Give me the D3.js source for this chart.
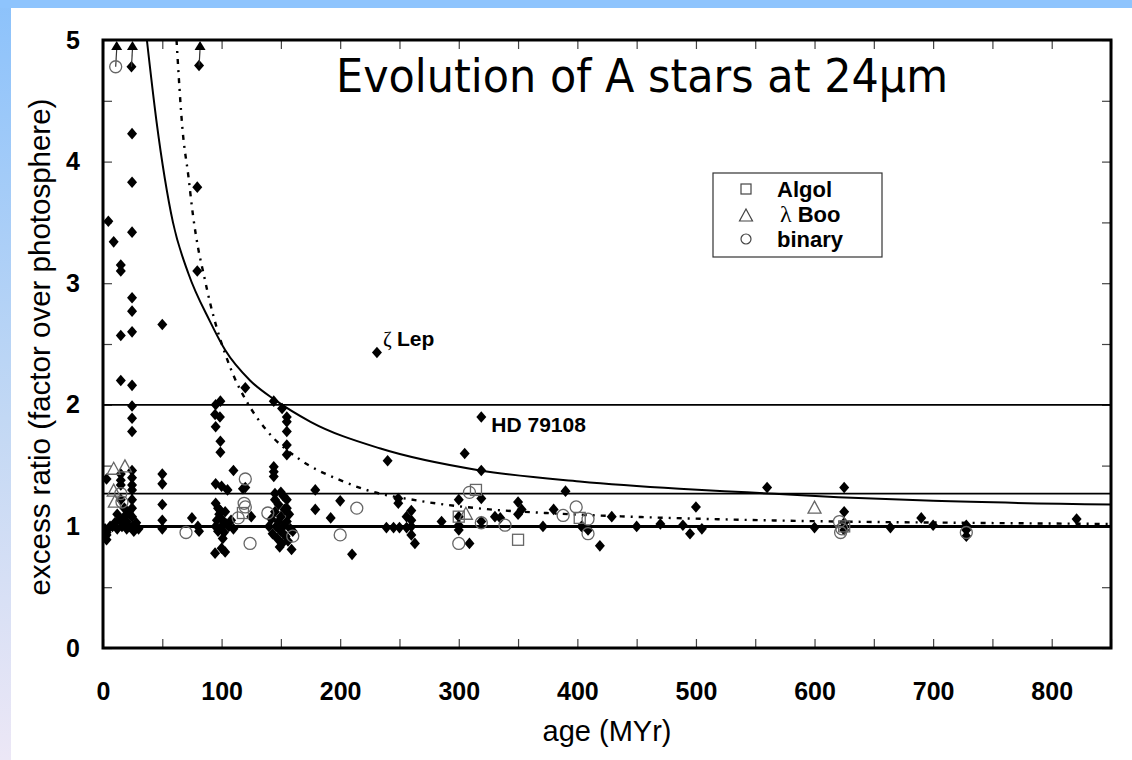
<!DOCTYPE html>
<html>
<head>
<meta charset="utf-8">
<script src="https://cdn.jsdelivr.net/npm/d3@7"></script>
<style>
  body { margin: 0; background: #fff; }
  svg { display: block; }
  .tick line { stroke: #444; stroke-width: 1.2; }
  .tick text { font-family: "Liberation Sans", Arial, sans-serif; font-weight: bold; font-size: 25px; fill: #000; }
</style>
</head>
<body>
<svg id="chart"></svg>
<script>
// filled diamonds: A stars [age MYr, excess ratio]
const diamonds = [
  [24.5,4.23],[24.5,3.83],[4.5,3.51],[9,3.34],[24.5,3.42],[79.5,3.79],[79.5,3.10],[15,3.15],[15,3.10],
  [24.5,2.88],[24.5,2.77],[15,2.57],[24.5,2.60],[50,2.66],[15,2.20],[24.5,2.16],[24.5,1.99],[24.5,1.89],[24.5,1.78],
  [120,2.14],[95,2.0],[99,2.03],[94.5,1.92],[98.6,1.90],[95,1.82],[99,1.70],[99,1.61],
  [144,2.03],[151,1.97],[155,1.90],[155,1.86],[155,1.78],[155,1.67],[155,1.59],
  [231,2.43],[319,1.90],[240,1.54],[305,1.60],[319,1.46],[390,1.29],[560,1.32],[625,1.32],
  [110,1.46],[144,1.49],[144,1.45],[144,1.41],[50,1.43],[50,1.35],
  [24.5,1.46],[24.5,1.40],[24.5,1.34],[24.5,1.30],[24.5,1.22],[24.5,1.15],[24.5,1.08],
  [15,1.43],[15,1.38],[3,1.39],[15,1.34],
  [95,1.35],[100,1.33],[105,1.30],[120,1.32],[179,1.30],[118,1.31],
  [95,1.19],[99,1.13],[50,1.18],[50,1.05],[50,0.98],
  [75,1.07],[80,1.0],[81,0.96],
  [94.5,0.78],[100,0.82],[103,0.79],[125,1.08],
  [150,1.28],[145,1.22],[155,1.22],[155,1.15],[179,1.14],[200,1.21],[192,1.07],[249,1.23],[249,1.19],[256,1.08],
  [239,0.99],[245,0.99],[250,0.99],[256,0.99],[159,0.81],[210,0.77],
  [300,1.22],[319,1.23],[350,1.20],[353,1.14],[350,1.10],[380,1.14],
  [260,1.13],[260,1.05],[260,1.0],[260,0.93],[263,0.86],[285.5,1.04],[300,1.08],[300,1.01],[300,0.97],
  [330.5,1.08],[335,1.07],[319,1.04],[371,1.0],[403.5,1.0],[409,0.97],[419,0.84],[429,1.08],[450,1.0],
  [309,0.86],[470,1.02],[489,1.01],[495,0.94],[500,1.16],[505,0.98],
  [625,1.12],[625,1.03],[625,0.97],[600,0.99],[664,0.99],[690,1.07],[700,1.01],[728,1.01],[728,0.97],[728,0.92],[821,1.06],
  [1.7,0.98],[3,0.93],[3,0.89],[3,0.95],[6,1.0],
  [8,1.0],[10,1.03],[12,0.98],[14,1.05],[16,1.0],[18,1.08],[20,0.98],[20,1.04],[22,1.0],[25,1.0],[26,0.96],
  [28,1.03],[30,0.98],[12,1.1],[18,1.15],[15,1.22],[22,1.12],
  [95,1.0],[96,1.05],[97,0.96],[98,1.1],[100,1.0],[100,1.06],[102,0.95],[103,1.12],[104,1.02],[106,1.0],
  [108,1.05],[110,0.98],[97,1.15],[101,0.9],
  [140,1.0],[142,1.06],[143,0.94],[145,1.12],[146,1.0],[147,0.9],[148,1.18],[148,1.04],[150,0.96],[150,1.08],
  [151,0.86],[152,1.0],[153,1.14],[154,0.92],[155,1.04],[156,0.88],[157,1.1],[158,0.98],[160,0.96],
  [145,1.27],[152,1.25],[149,0.83]
];
// open symbols
const binaries = [
  [15,1.27],[16,1.2],[120,1.39],[119,1.19],[120,1.16],[114,1.07],[70,0.95],[124,0.86],[139,1.11],[214,1.15],
  [200,0.93],[160,0.92],[309,1.28],[300,0.86],[319,1.03],[339,1.01],[388,1.09],[399,1.16],[409,1.06],[409,0.94],
  [621,1.04],[623,0.98],[622,0.95],[728,0.95]
];
const lambdaBoo = [[9,1.47],[18.5,1.49],[9,1.29],[10,1.20],[306,1.10],[600,1.15]];
const algol = [[118,1.11],[314.5,1.30],[300,1.08],[350,0.89],[402,1.07],[625,1.0]];
// points with lower limits above the plot (arrow to top)
const limits = [
  { age: 10.7, ratio: 4.78, kind: "binary" },
  { age: 24, ratio: 4.78, kind: "star" },
  { age: 81, ratio: 4.79, kind: "star" }
];
// model curves
const solidCurve = [[37,5.0],[45,4.34],[59,3.5],[72,3.08],[90,2.69],[103,2.45],[124,2.2],[145,2.04],[175,1.86],
  [234,1.64],[318,1.46],[402,1.37],[486,1.31],[543,1.28],[620,1.24],[700,1.21],[850,1.18]];
const dottedCurve = [[62,5.0],[67,4.27],[72,3.88],[76,3.55],[80,3.3],[85,3.07],[90,2.85],[96,2.63],[103,2.42],
  [111,2.22],[121,2.03],[138,1.79],[166,1.55],[200,1.38],[222,1.30],[267,1.21],[326,1.14],[374,1.11],[444,1.08],
  [515,1.06],[620,1.04],[720,1.03],[850,1.02]];
const refLines = [{ v: 2, w: 1.7 }, { v: 1.27, w: 1.7 }, { v: 1, w: 3 }];
const xTicks = d3.range(0, 851, 50);
const yTicks = d3.range(0, 5.01, 0.5);
const legendLabels = ["Algol", "Boo", "binary"];
const notes = [
  { age: 231, ratio: 2.43, greek: "ζ", text: "Lep", dx: 6, dy: -7 },
  { age: 319, ratio: 1.90, greek: "", text: "HD 79108", dx: 10, dy: 15 }
];

const W = 1132, H = 760;
const margin = { top: 40, right: 21, bottom: 112, left: 103 };
const width = W - margin.left - margin.right,
      height = H - margin.top - margin.bottom;

const svg = d3.select('#chart').attr('width', W).attr('height', H);

// slide background
let grad = svg.append('defs').append('linearGradient')
  .attr('id', 'side').attr('x1', 0).attr('y1', 0).attr('x2', 0).attr('y2', 1);
grad.append('stop').attr('offset', '0%').attr('stop-color', '#8cc2fb');
grad.append('stop').attr('offset', '55%').attr('stop-color', '#c2d8f4');
grad.append('stop').attr('offset', '100%').attr('stop-color', '#ece7f6');
svg.append('rect').attr('width', W).attr('height', H).attr('fill', '#fff');
svg.append('rect').attr('width', 11).attr('height', H).attr('fill', 'url(#side)');
svg.append('rect').attr('width', W).attr('height', 8).attr('fill', '#8ec4fd');

let x = d3.scaleLinear().domain([0, 850]).range([0, width]);
let y = d3.scaleLinear().domain([0, 5]).range([height, 0]);

let g = svg.append('g').attr('transform', `translate(${margin.left},${margin.top})`);

svg.append('defs').append('clipPath').attr('id', 'plot')
  .append('rect').attr('width', width).attr('height', height);

// axes (ticks point inward)
g.append('g').attr('transform', `translate(0,${height})`)
  .call(d3.axisBottom(x).tickValues(xTicks).tickSize(-9).tickPadding(34)
    .tickFormat(d => d % 100 === 0 ? d : ''))
  .call(a => a.select('.domain').remove());
g.append('g')
  .call(d3.axisTop(x).tickValues(xTicks).tickSize(-9).tickFormat(''))
  .call(a => a.select('.domain').remove());
g.append('g')
  .call(d3.axisLeft(y).tickValues(yTicks).tickSize(-9).tickPadding(23)
    .tickFormat(d => Number.isInteger(d) ? d : ''))
  .call(a => a.select('.domain').remove());
g.append('g').attr('transform', `translate(${width},0)`)
  .call(d3.axisRight(y).tickValues(yTicks).tickSize(-9).tickFormat(''))
  .call(a => a.select('.domain').remove());

let plot = g.append('g').attr('clip-path', 'url(#plot)');

plot.selectAll('.ref')
  .data(refLines)
  .enter()
  .append('line')
    .attr('x1', 0).attr('x2', width)
    .attr('y1', d => y(d.v)).attr('y2', d => y(d.v))
    .attr('stroke', '#000')
    .attr('stroke-width', d => d.w);

let line = d3.line().x(d => x(d[0])).y(d => y(d[1])).curve(d3.curveMonotoneX);

plot.append('path').datum(solidCurve)
  .attr('d', line).attr('fill', 'none').attr('stroke', '#000').attr('stroke-width', 2);
plot.append('path').datum(dottedCurve)
  .attr('d', line).attr('fill', 'none').attr('stroke', '#000').attr('stroke-width', 2.4)
  .attr('stroke-dasharray', '5,6,2,6');

const diamond = 'M0,-5.8L5,0L0,5.8L-5,0Z';
const tri = 'M0,-7L6.5,5L-6.5,5Z';

plot.selectAll('.star')
  .data(diamonds.concat(limits.filter(d => d.kind === 'star').map(d => [d.age, d.ratio])))
  .enter()
  .append('path')
    .attr('class', 'star')
    .attr('d', diamond)
    .attr('transform', d => `translate(${x(d[0])},${y(d[1])})`)
    .attr('fill', '#000');

// lower-limit arrows
plot.selectAll('.arrow')
  .data(limits)
  .enter()
  .append('line')
    .attr('x1', d => x(d.age)).attr('x2', d => x(d.age) + 1)
    .attr('y1', d => y(d.ratio)).attr('y2', y(5) + 9)
    .attr('stroke', '#333').attr('stroke-width', 1.2);
plot.selectAll('.head')
  .data(limits)
  .enter()
  .append('path')
    .attr('d', 'M0,0L5.5,9L-5.5,9Z')
    .attr('transform', d => `translate(${x(d.age) + 1},${y(5) + 1})`)
    .attr('fill', '#000');

plot.selectAll('.bin')
  .data(binaries.concat(limits.filter(d => d.kind === 'binary').map(d => [d.age, d.ratio])))
  .enter()
  .append('circle')
    .attr('cx', d => x(d[0])).attr('cy', d => y(d[1])).attr('r', 6)
    .attr('fill', 'none').attr('stroke', '#666').attr('stroke-width', 1.3);

plot.selectAll('.boo')
  .data(lambdaBoo)
  .enter()
  .append('path')
    .attr('d', tri)
    .attr('transform', d => `translate(${x(d[0])},${y(d[1])})`)
    .attr('fill', 'none').attr('stroke', '#666').attr('stroke-width', 1.3);

plot.selectAll('.algol')
  .data(algol)
  .enter()
  .append('rect')
    .attr('x', d => x(d[0]) - 5.5).attr('y', d => y(d[1]) - 5.5)
    .attr('width', 11).attr('height', 11)
    .attr('fill', 'none').attr('stroke', '#666').attr('stroke-width', 1.3);

// frame
g.append('rect').attr('width', width).attr('height', height)
  .attr('fill', 'none').attr('stroke', '#000').attr('stroke-width', 3);

// annotations
notes.forEach(n => {
  let t = g.append('text')
    .attr('x', x(n.age) + n.dx).attr('y', y(n.ratio) + n.dy)
    .attr('font-family', '"Liberation Sans", Arial, sans-serif')
    .attr('font-size', 21).attr('font-weight', 'bold');
  if (n.greek) {
    t.append('tspan').attr('font-weight', 'normal').attr('font-family', '"Liberation Serif", serif').text(n.greek + ' ');
  }
  t.append('tspan').text(n.text);
});

// legend
let lg = svg.append('g').attr('transform', 'translate(713,173)');
lg.append('rect').attr('width', 169).attr('height', 84)
  .attr('fill', '#fff').attr('stroke', '#333').attr('stroke-width', 1.2);
lg.append('rect').attr('x', 28).attr('y', 11).attr('width', 10).attr('height', 10)
  .attr('fill', 'none').attr('stroke', '#444').attr('stroke-width', 1.2);
lg.append('path').attr('d', tri).attr('transform', 'translate(33,43)')
  .attr('fill', 'none').attr('stroke', '#444').attr('stroke-width', 1.2);
lg.append('circle').attr('cx', 33).attr('cy', 66).attr('r', 5)
  .attr('fill', 'none').attr('stroke', '#444').attr('stroke-width', 1.2);
lg.selectAll('.lab')
  .data(legendLabels)
  .enter()
  .append('text')
    .attr('x', (d, i) => i === 1 ? 67 : 64)
    .attr('y', (d, i) => 24 + i * 25)
    .attr('font-family', '"Liberation Sans", Arial, sans-serif')
    .attr('font-size', 22).attr('font-weight', 'bold')
    .each(function(d, i) {
      let t = d3.select(this);
      if (i === 1) t.append('tspan').attr('font-weight', 'normal')
        .attr('font-family', '"Liberation Serif", serif').attr('font-size', 24).text('λ ');
      t.append('tspan').text(d);
    });

// axis titles
svg.append('text')
  .attr('x', margin.left + width / 2).attr('y', 741)
  .attr('text-anchor', 'middle')
  .attr('font-family', '"Liberation Sans", Arial, sans-serif').attr('font-size', 29)
  .text('age (MYr)');
svg.append('text')
  .attr('transform', 'translate(50,347) rotate(-90)')
  .attr('text-anchor', 'middle')
  .attr('font-family', '"Liberation Sans", Arial, sans-serif').attr('font-size', 29.5)
  .text('excess ratio (factor over photosphere)');

// slide title
svg.append('text')
  .attr('x', 336).attr('y', 92)
  .attr('font-family', '"DejaVu Sans", Verdana, sans-serif').attr('font-size', 46)
  .attr('textLength', 612).attr('lengthAdjust', 'spacingAndGlyphs')
  .text('Evolution of A stars at 24µm');
</script>
</body>
</html>
